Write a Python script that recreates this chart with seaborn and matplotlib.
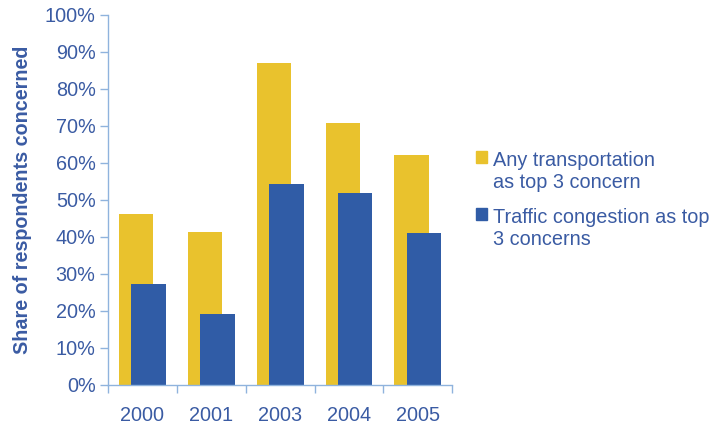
import seaborn as sns
import matplotlib.pyplot as plt
import pandas as pd
import numpy as np

years = ['2000', '2001', '2003', '2004', '2005']
any_transport = [46.1, 41.2, 86.9, 70.9, 62.0]
congestion = [27.2, 19.1, 54.2, 52.0, 41.0]
label_any = 'Any transportation\nas top 3 concern'
label_cong = 'Traffic congestion as top\n3 concerns'

yellow = '#E9C22D'
blue = '#305CA6'
text_blue = '#3A5BA3'
axis_blue = '#8FB3DD'

df = pd.DataFrame({'year': years, 'any': any_transport, 'cong': congestion})

sns.set_style('white')
plt.rcParams['font.family'] = ['Liberation Sans', 'DejaVu Sans']

fig = plt.figure(figsize=(7.11, 4.24), dpi=100)
ax = fig.add_axes([0.152, 0.092, 0.484, 0.873])

sns.barplot(data=df, x='year', y='any', color=yellow, width=0.5,
            saturation=1, ax=ax)
n_first = len(ax.patches)
sns.barplot(data=df, x='year', y='cong', color=blue, width=0.5,
            saturation=1, ax=ax)
# shift bars so they overlap: yellow to the left, blue to the right
for i, p in enumerate(ax.patches):
    p.set_edgecolor('none')
    if i < n_first:
        p.set_x(p.get_x() - 0.09)
    else:
        p.set_x(p.get_x() + 0.09)

ax.set_xlim(-0.5, len(years) - 0.5)
ax.set_ylim(0, 100)
ax.set_yticks(np.arange(0, 101, 10))
ax.set_yticklabels([f'{v}%' for v in range(0, 101, 10)])
ax.set_xticks(np.arange(-0.5, len(years), 1), minor=True)
ax.tick_params(axis='x', which='major', length=0, pad=15,
               labelsize=14.3, labelcolor=text_blue)
ax.tick_params(axis='x', which='minor', length=6, width=1, color=axis_blue,
               direction='out', bottom=True)
ax.tick_params(axis='y', length=6, width=1, color=axis_blue, direction='out',
               left=True, pad=3, labelsize=14.3, labelcolor=text_blue)

for s in ['top', 'right']:
    ax.spines[s].set_visible(False)
for s in ['left', 'bottom']:
    ax.spines[s].set_color(axis_blue)
    ax.spines[s].set_linewidth(1)

ax.set_xlabel('')
ax.set_ylabel('Share of respondents concerned', fontsize=14.2,
              fontweight='bold', color=text_blue, labelpad=9)

handles = [plt.Rectangle((0, 0), 1, 1, color=yellow),
           plt.Rectangle((0, 0), 1, 1, color=blue)]
leg = fig.legend(handles, [label_any, label_cong], loc='upper left',
                 bbox_to_anchor=(0.644, 0.686), frameon=False,
                 fontsize=14.3, handlelength=0.55, handleheight=0.55,
                 handletextpad=0.3, labelspacing=0.8, labelcolor=text_blue)
# put each square next to the first line of its label
for col in leg._legend_handle_box.get_children():
    for item in col.get_children():
        item.align = 'top'

plt.savefig('out.png', dpi=100)
